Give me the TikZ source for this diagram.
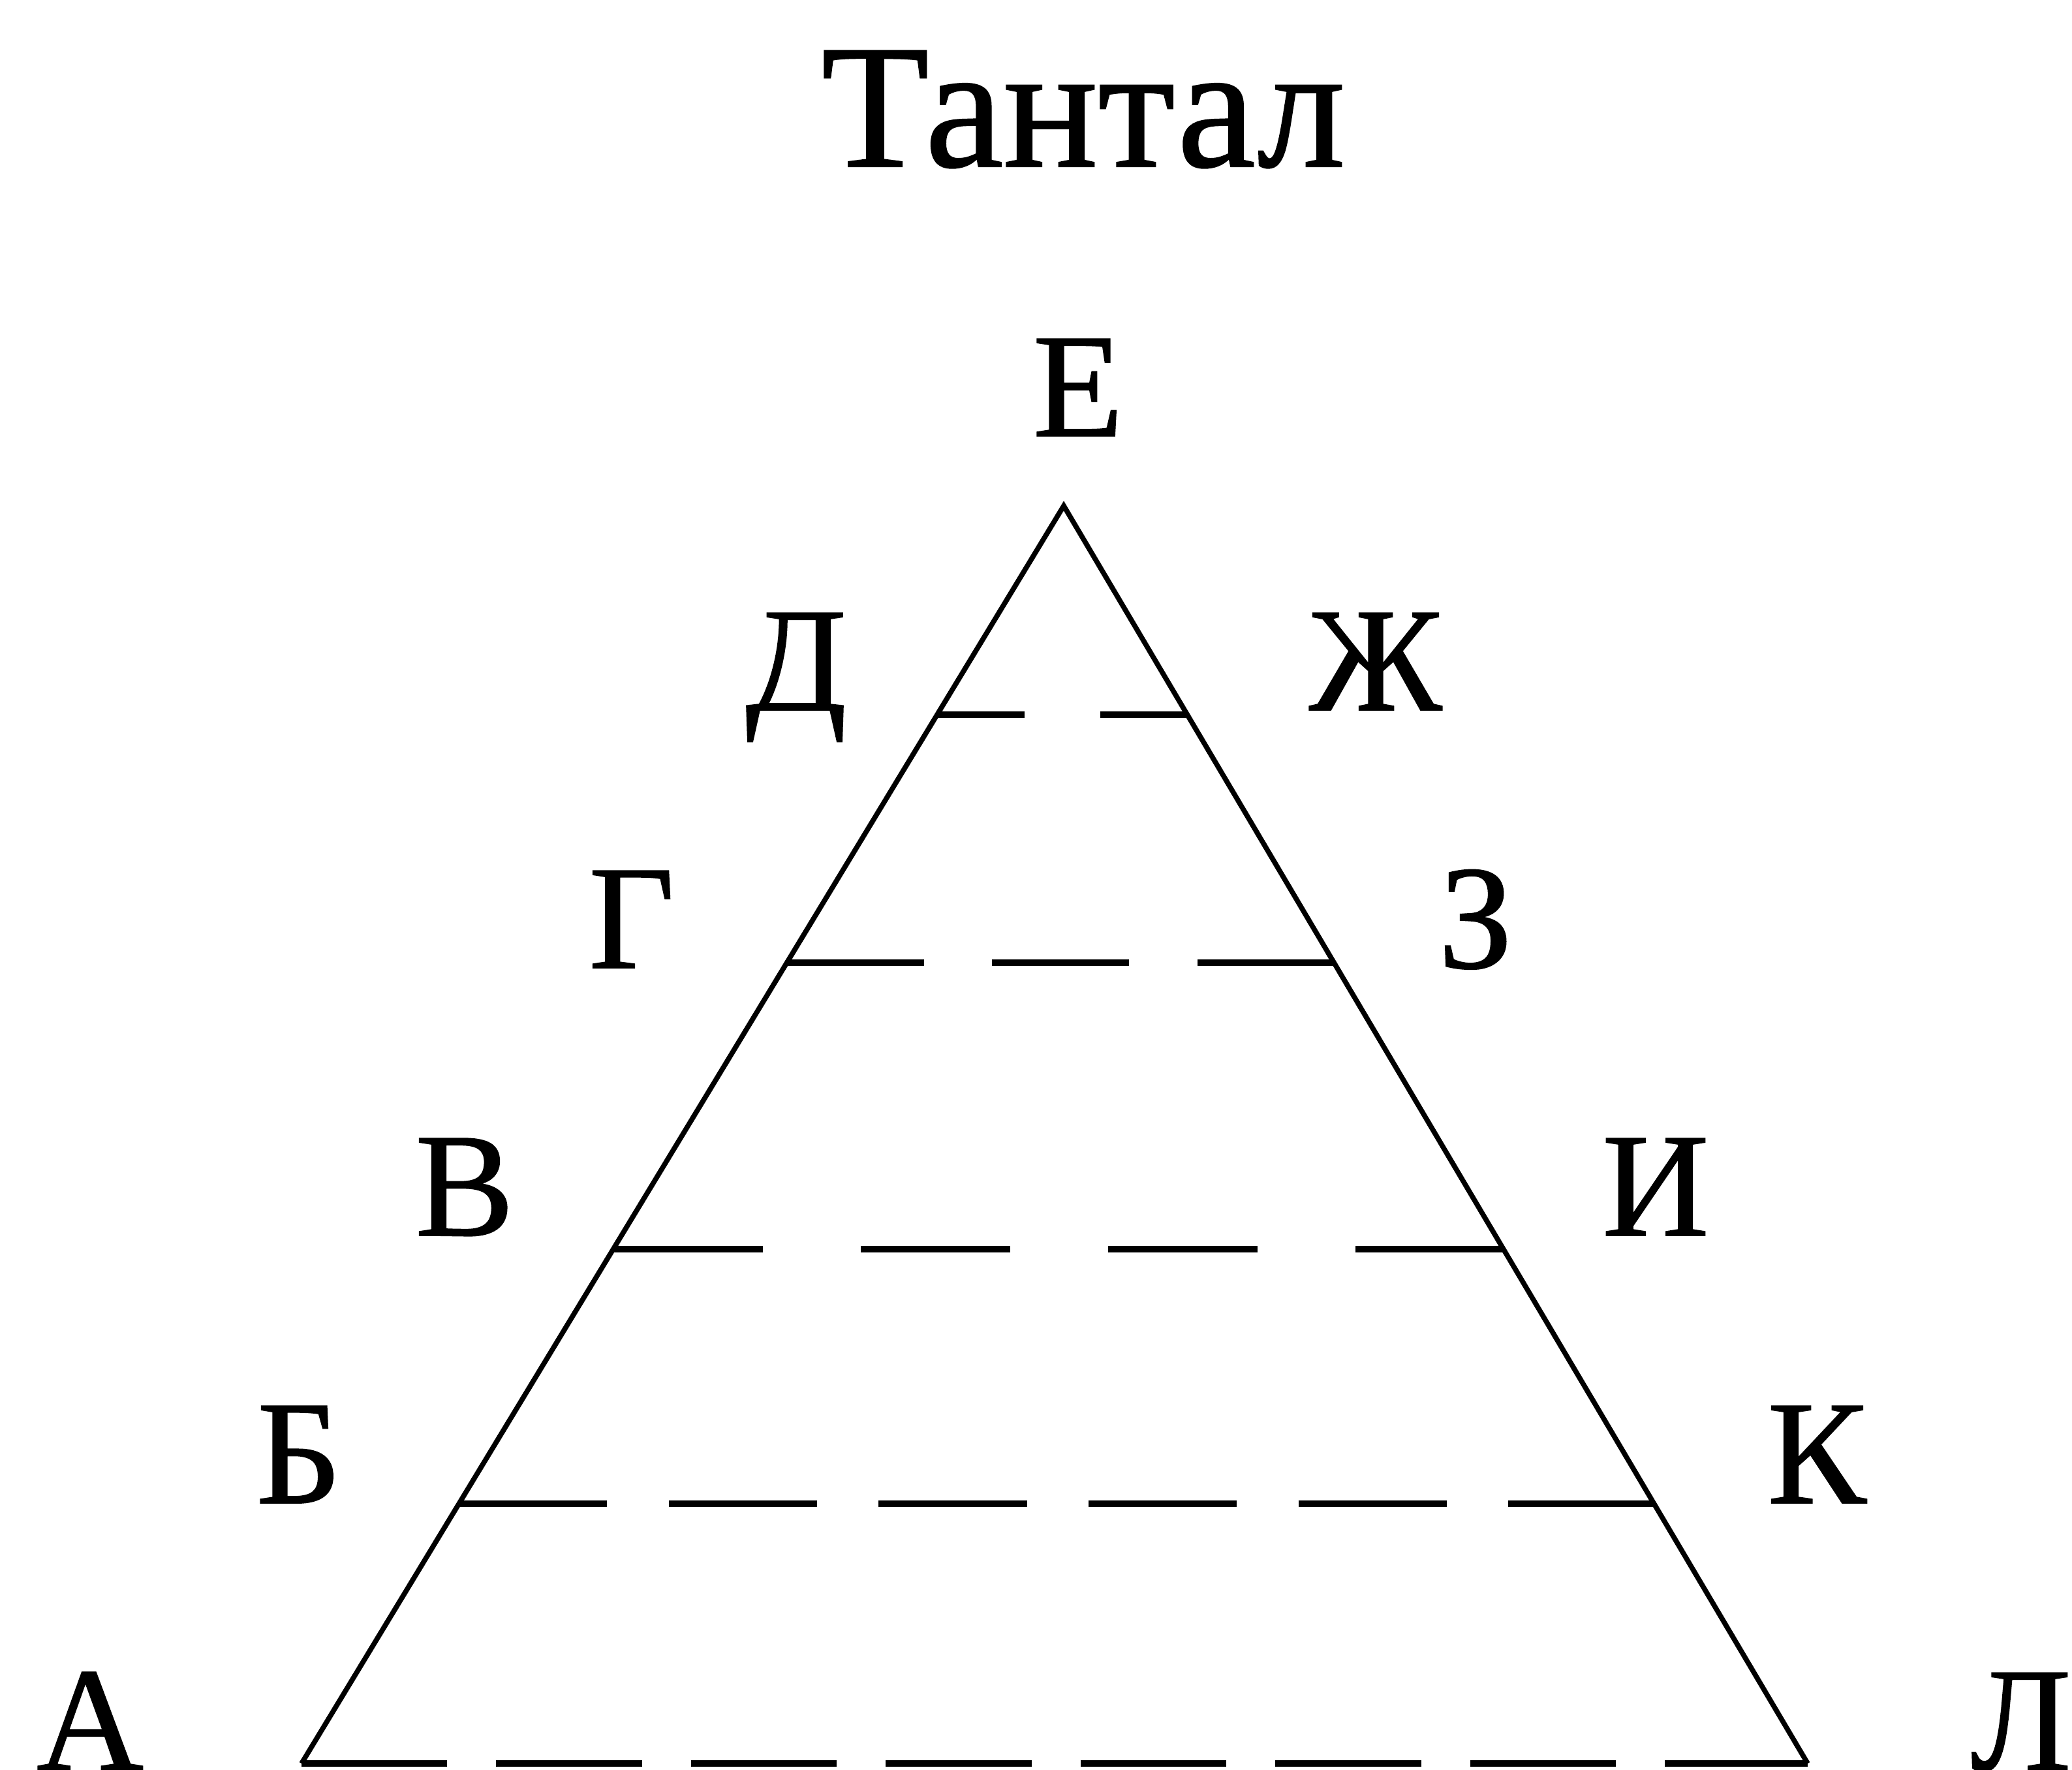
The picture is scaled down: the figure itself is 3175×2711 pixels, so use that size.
\documentclass[tikz,border=0pt]{standalone}
\usepackage{fontspec}
\setmainfont{Liberation Serif}[FakeBold=0.8]
\usetikzlibrary{calc}

\begin{document}
\begin{tikzpicture}[
  x=0.01cm, y=-0.01cm,
  letter/.style={anchor=base, inner sep=0pt, font=\fontsize{64.6}{70}\selectfont},
  side/.style={line width=2.2pt, line join=miter},
  rung/.style={line width=2.8pt}
]
\useasboundingbox (0,0) rectangle (3175,2711);

\node[anchor=base, inner sep=0pt, font=\fontsize{77}{80}\selectfont] (title) at (1660,255) {Тантал};

% vertices of the triangle
\coordinate (vE) at (1630,775);
\coordinate (vA) at (462,2702);
\coordinate (vL) at (2770,2702);

% ends of the levels on the two sides
\coordinate (d1) at ($(vE)!0.1661!(vA)$);
\coordinate (z1) at ($(vE)!0.1661!(vL)$);
\coordinate (d2) at ($(vE)!0.3633!(vA)$);
\coordinate (z2) at ($(vE)!0.3633!(vL)$);
\coordinate (d3) at ($(vE)!0.5911!(vA)$);
\coordinate (z3) at ($(vE)!0.5911!(vL)$);
\coordinate (d4) at ($(vE)!0.7935!(vA)$);
\coordinate (z4) at ($(vE)!0.7935!(vL)$);

\node[letter] (E) at (1652,668) {Е};
\node[letter] (D) at (1220,1088) {Д};
\node[letter] (Zh) at (2108,1088) {Ж};
\node[letter] (G) at (968,1483) {Г};
\node[letter] (Z) at (2261,1483) {З};
\node[letter] (V) at (712,1893) {В};
\node[letter] (I) at (2537,1893) {И};
\node[letter] (B) at (458,2303) {Б};
\node[letter] (K) at (2784,2303) {К};
\node[letter] (A) at (138,2712) {А};
\node[letter] (L) at (3097,2712) {Л};

\draw[side] (vA) -- (vE) -- (vL);

\draw[rung, dash pattern=on 1.34cm off 1.16cm] (d1) -- (z1);
\draw[rung, dash pattern=on 2.10cm off 1.045cm] (d2) -- (z2);
\draw[rung, dash pattern=on 2.29cm off 1.50cm] (d3) -- (z3);
\draw[rung, dash pattern=on 2.27cm off 0.944cm] (d4) -- (z4);
\draw[rung, dash pattern=on 2.23cm off 0.753cm] (vA) -- (vL);
\end{tikzpicture}
\end{document}
